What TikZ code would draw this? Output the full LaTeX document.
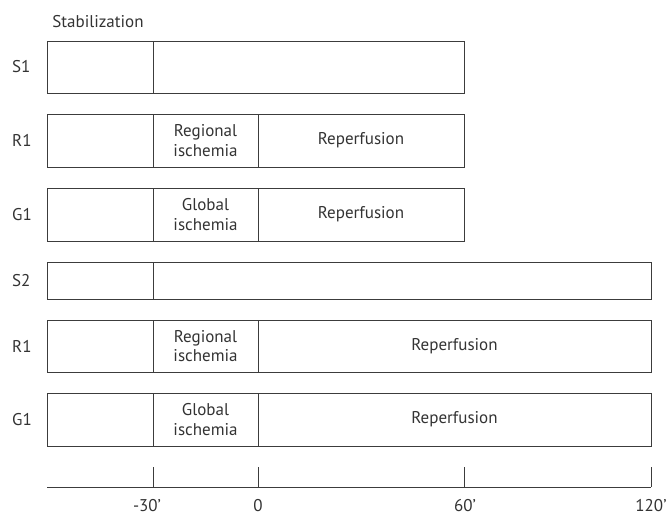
\documentclass[tikz,border=0pt]{standalone}
\usepackage{fontspec}
\setmainfont{PT Sans}
\definecolor{ln}{HTML}{3C3C3C}
\definecolor{tx}{HTML}{333333}
\begin{document}
\begin{tikzpicture}[x=1pt,y=-1pt,
  cell/.style={draw=ln, line width=0.9pt},
  lbl/.style={text=tx, font=\fontsize{17}{19.5}\selectfont, align=center, inner sep=0pt},
  rowlbl/.style={lbl, anchor=west},
  ticklbl/.style={text=tx, font=\fontsize{17}{19.5}\selectfont, inner sep=0pt, anchor=base},
  axis/.style={draw=ln, line width=0.9pt}]
\useasboundingbox (0,0) rectangle (667,515);
% title
\node[lbl] (stab) at (98,22) {Stabilization};
\newcommand\rowcells[6]{%
  % #1 name, #2 top, #3 bottom, #4 right, #5 ischemia text, #6 reperfusion text
  \draw[cell] (47,#2) rectangle (153,#3);
  \draw[cell] (153,#2) rectangle (258,#3);
  \draw[cell] (258,#2) rectangle (#4,#3);
  \node[lbl] (#1isc) at (205.5,{(#2+#3)/2}) {#5};
  \node[lbl] (#1rep) at ({(258+#4)/2},{(#2+#3)/2}) {#6};
}
% S1
\draw[cell] (47,41) rectangle (153,93);
\draw[cell] (153,41) rectangle (464,93);
\node[rowlbl] (s1) at (12,67) {S1};
% R1
\rowcells{ra}{114}{167}{464}{Regional\\ischemia}{Reperfusion}
\node[rowlbl] (r1a) at (12,140.5) {R1};
% G1
\rowcells{ga}{188}{241}{464}{Global\\ischemia}{Reperfusion}
\node[rowlbl] (g1a) at (12,214.5) {G1};
% S2
\draw[cell] (47,262) rectangle (153,299);
\draw[cell] (153,262) rectangle (651,299);
\node[rowlbl] (s2) at (12,280.5) {S2};
% R1
\rowcells{rb}{320}{372}{651}{Regional\\ischemia}{Reperfusion}
\node[rowlbl] (r1b) at (12,346) {R1};
% G1
\rowcells{gb}{393}{446}{651}{Global\\ischemia}{Reperfusion}
\node[rowlbl] (g1b) at (12,419.5) {G1};
% time axis
\coordinate (a0) at (47,487);
\coordinate (a1) at (651,487);
\draw[axis] (a0) -- (a1);
\foreach \x/\t/\lx in {153/-30'/147, 258/0/258, 464/60'/465, 651/120'/651}{
  \draw[axis] (\x,467) -- (\x,487);
  \node[ticklbl] at (\lx,511.5) {\t};
}
\end{tikzpicture}
\end{document}
